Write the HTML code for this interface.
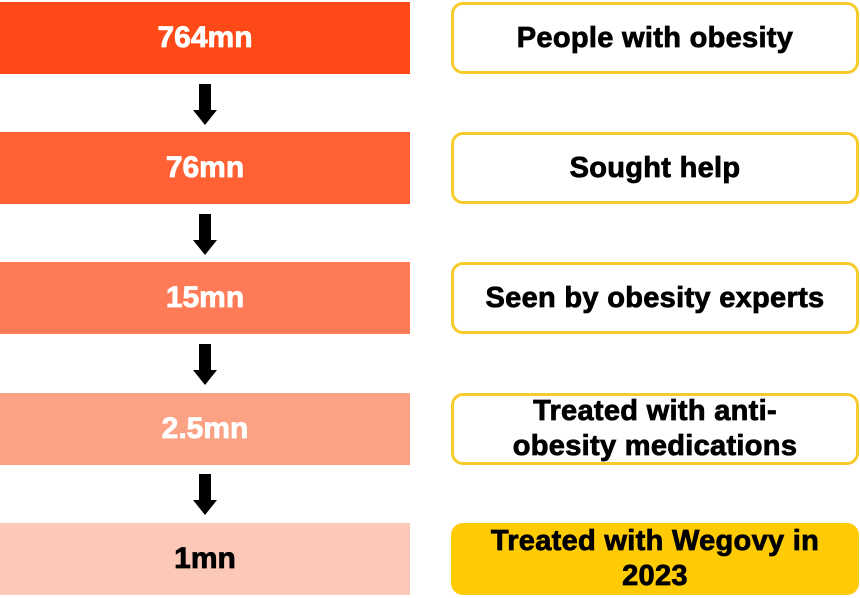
<!DOCTYPE html>
<html><head><style>
body{margin:0;width:860px;height:598px;background:#fff;position:relative;overflow:hidden;font-family:"Liberation Sans",sans-serif;font-weight:bold}
.bar{position:absolute;left:0;width:410px;height:72px;display:flex;align-items:center;justify-content:center;color:#fff;font-size:30px;-webkit-text-stroke:0.8px currentColor}
.box{position:absolute;left:451px;width:402px;height:66px;border:3px solid #F7CB2C;border-radius:12px;display:flex;align-items:center;justify-content:center;text-align:center;font-size:29px;line-height:35px;color:#000;background:#fff;-webkit-text-stroke:0.8px #000;letter-spacing:0.3px}
.arr{position:absolute;left:199px;width:12px;height:28px;background:#000}
.arr:after{content:"";position:absolute;left:-6px;top:26px;border-left:12px solid transparent;border-right:12px solid transparent;border-top:15px solid #000}
</style></head><body>
<div class="bar" style="top:2px;background:#FF4A17">764mn</div>
<div class="bar" style="top:132px;background:#FF6135">76mn</div>
<div class="bar" style="top:262px;background:#FF7A56">15mn</div>
<div class="bar" style="top:393px;background:#FBA285">2.5mn</div>
<div class="bar" style="top:523px;background:#FCC9B8;color:#000">1mn</div>
<div class="box" style="top:2px">People with obesity</div>
<div class="box" style="top:132px">Sought help</div>
<div class="box" style="top:262px">Seen by obesity experts</div>
<div class="box" style="top:393px">Treated with anti-<br>obesity medications</div>
<div class="box" style="top:523px;background:#FFCB05;border-color:#FFCB05">Treated with Wegovy in<br>2023</div>
<div class="arr" style="top:84px"></div>
<div class="arr" style="top:214px"></div>
<div class="arr" style="top:344px"></div>
<div class="arr" style="top:474px"></div>
</body></html>
